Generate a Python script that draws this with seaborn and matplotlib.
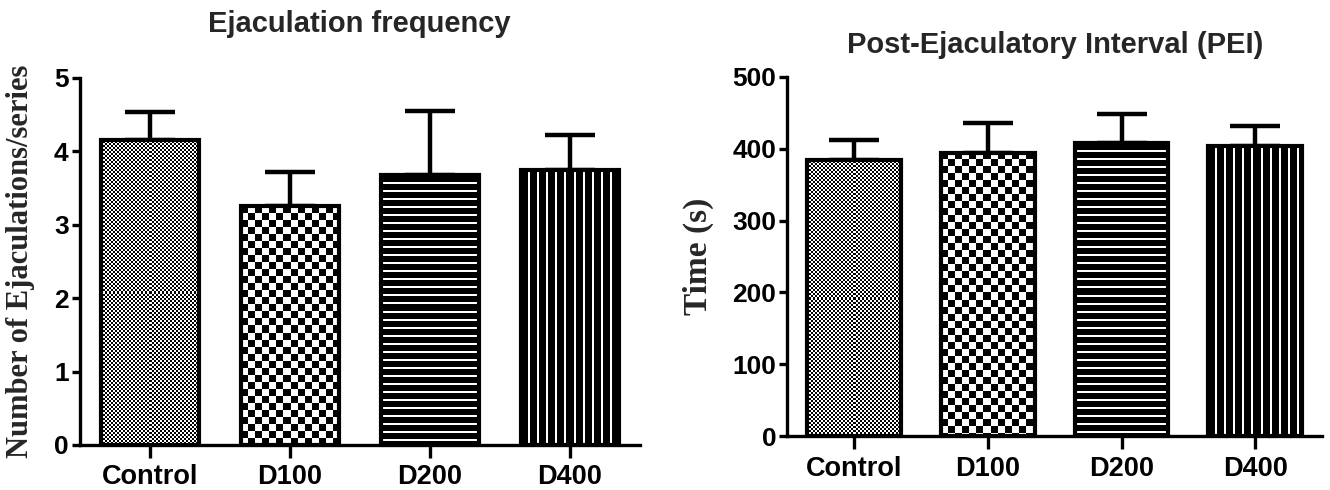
import matplotlib
matplotlib.use("Agg")
import matplotlib.pyplot as plt
import numpy as np
import seaborn as sns

groups = ["Control", "D100", "D200", "D400"]
freq_mean = [4.16, 3.25, 3.68, 3.75]
freq_sem = [0.37, 0.47, 0.87, 0.47]
pei_mean = [385, 394, 408, 404]
pei_sem = [27, 42, 40, 28]
fills = ["fine", "check", "hlines", "vlines"]

sns.set_theme(style="ticks")
plt.rcParams["font.family"] = ["Liberation Sans", "DejaVu Sans"]
plt.rcParams["font.weight"] = "bold"


def texture(kind, ny, nx):
    i, j = np.indices((ny, nx))
    if kind == "fine":
        return ((i // 2 + j // 2) % 2).astype(float)
    if kind == "check":
        return ((i // 7 + j // 7) % 2).astype(float)
    if kind == "hlines":
        return (i % 8 < 2).astype(float)
    return (j % 9 >= 7).astype(float)


def panel(ax, means, sems, ymax, step, title, title_pad, ylabel, ylabel_x, ylabel_size):
    sns.barplot(x=groups, y=means, ax=ax, color="white", edgecolor="black",
                linewidth=3, width=0.7, errorbar=None, saturation=1)
    ax.errorbar(np.arange(len(groups)), means, yerr=[np.zeros(len(sems)), sems],
                fmt="none", ecolor="black", elinewidth=3.2, capsize=18, capthick=3.2, zorder=1)
    xlim, ylim = (-0.5, 3.5), (0, ymax)
    ax.set_xlim(xlim)
    ax.set_ylim(ylim)

    # fill each bar with its black/white texture
    for p, kind in zip(list(ax.patches), fills):
        x0, y0 = p.get_x(), p.get_y()
        x1, y1 = x0 + p.get_width(), y0 + p.get_height()
        px = ax.transData.transform([[x0, y0], [x1, y1]])
        nx = max(int(abs(px[1, 0] - px[0, 0])), 1)
        ny = max(int(abs(px[1, 1] - px[0, 1])), 1)
        im = ax.imshow(texture(kind, ny, nx), cmap="gray", vmin=0, vmax=1,
                       extent=(x0, x1, y0, y1), aspect="auto",
                       interpolation="nearest", zorder=1.5)
        im.set_clip_path(p)
        p.set_facecolor("none")
        p.set_zorder(3)

    ax.set_xlim(xlim)
    ax.set_ylim(ylim)
    ax.set_yticks(np.arange(0, ymax + step / 2, step))
    sns.despine(ax=ax)
    for s in ["left", "bottom"]:
        ax.spines[s].set_linewidth(2.4)
        ax.spines[s].set_color("black")
    ax.tick_params(axis="y", length=6, width=2.4, pad=2, labelsize=19, colors="black")
    ax.tick_params(axis="x", length=9, width=2.4, pad=5, labelsize=19.5, colors="black")
    ax.set_title(title, fontsize=21, fontweight="bold", pad=title_pad)
    ax.set_ylabel(ylabel, family=["Liberation Serif"], fontsize=ylabel_size, fontweight="bold")
    ax.yaxis.set_label_coords(ylabel_x, 0.5)
    ax.set_xlabel("")


fig = plt.figure(figsize=(13.3, 4.9), dpi=100)
ax1 = fig.add_axes([0.060, 0.092, 0.421, 0.749])
ax2 = fig.add_axes([0.592, 0.110, 0.402, 0.733])

panel(ax1, freq_mean, freq_sem, 5, 1, "Ejaculation frequency", 33,
      "Number of Ejaculations/series", -0.080, 22)
panel(ax2, pei_mean, pei_sem, 500, 100, "Post-Ejaculatory Interval (PEI)", 17,
      "Time (s)", -0.138, 24)

fig.savefig("out.png", dpi=100, facecolor="white")
